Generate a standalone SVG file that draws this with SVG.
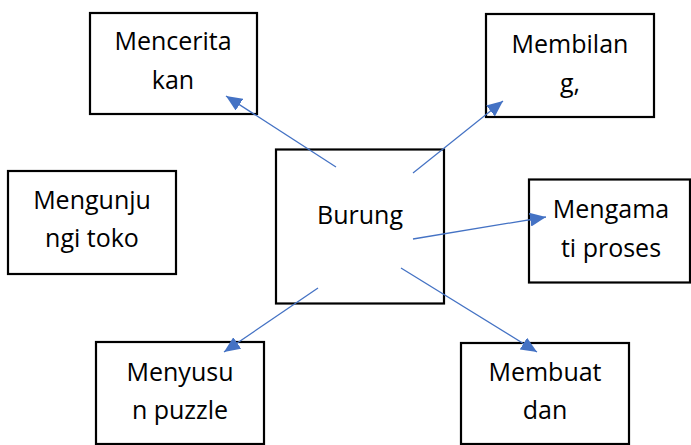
<svg xmlns="http://www.w3.org/2000/svg" width="691" height="445" viewBox="0 0 691 445">
<style>
.box{fill:#fff;stroke:#000;stroke-width:2.2}
.lbl{font-family:"Open Sans","Noto Sans",sans-serif;font-size:25px;fill:#000;text-anchor:middle}
.con{stroke:#4472C4;stroke-width:1.3;fill:none;marker-end:url(#ah)}
</style>
<defs>
<marker id="ah" markerUnits="userSpaceOnUse" markerWidth="16" markerHeight="14" refX="16" refY="7" orient="auto">
<path d="M0,0 L16,7 L0,14 z" fill="#4472C4"/>
</marker>
</defs>
<rect width="691" height="445" fill="#fff"/>
<g id="n-mencerita"><rect class="box" x="90" y="13" width="167" height="101"/><text class="lbl" x="173" y="50">Mencerita</text><text class="lbl" x="173" y="89">kan</text></g>
<g id="n-membilang"><rect class="box" x="486" y="14" width="168" height="103"/><text class="lbl" x="570" y="53">Membilan</text><text class="lbl" x="570" y="92">g,</text></g>
<g id="n-mengunjungi"><rect class="box" x="8" y="171" width="168" height="103"/><text class="lbl" x="92" y="209">Mengunju</text><text class="lbl" x="92" y="247">ngi toko</text></g>
<g id="n-burung"><rect class="box" x="276" y="149.5" width="168" height="154"/><text class="lbl" x="360" y="224">Burung</text></g>
<g id="n-mengamati"><rect class="box" x="529" y="179.5" width="161" height="103"/><text class="lbl" x="611" y="218">Mengama</text><text class="lbl" x="611" y="257">ti proses</text></g>
<g id="n-menyusun"><rect class="box" x="96" y="342" width="168" height="102"/><text class="lbl" x="180" y="381">Menyusu</text><text class="lbl" x="180" y="419">n puzzle</text></g>
<g id="n-membuat"><rect class="box" x="461" y="343" width="168" height="101"/><text class="lbl" x="545" y="381">Membuat</text><text class="lbl" x="545" y="419">dan</text></g>
<g id="connectors">
<line class="con" x1="336" y1="167" x2="226" y2="96"/>
<line class="con" x1="413" y1="173" x2="503" y2="101"/>
<line class="con" x1="413" y1="239" x2="546" y2="217"/>
<line class="con" x1="401" y1="268" x2="537" y2="352"/>
<line class="con" x1="318" y1="288" x2="224" y2="352"/>
</g>
</svg>
